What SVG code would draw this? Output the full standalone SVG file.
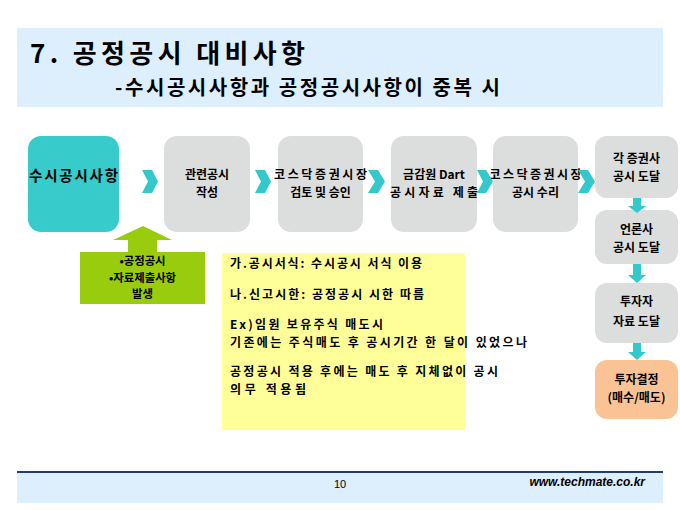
<svg xmlns="http://www.w3.org/2000/svg" width="680" height="510" viewBox="0 0 680 510">
<style>
text{font-family:"Noto Sans CJK KR","Noto Sans",sans-serif;font-weight:bold;fill:#000}
.n{font-size:12px;text-anchor:middle}
.g{font-size:11.4px;text-anchor:middle}
.y{font-size:12px}
.gray{fill:#dcdddd}
.chev{fill:#33c9cc}
</style>
<rect width="680" height="510" fill="#fff"/>
<g id="header">
<rect x="17" y="28" width="646" height="79" fill="#ddeefd"/>
<text x="30" y="63" font-size="26" textLength="275" lengthAdjust="spacing">7. 공정공시 대비사항</text>
<text x="115" y="95" font-size="20" textLength="385" lengthAdjust="spacing">-수시공시사항과 공정공시사항이 중복 시</text>
</g>
<g id="footer">
<rect x="17" y="472" width="646" height="31" fill="#ddeefd"/>
<line x1="17" y1="472" x2="663" y2="472" stroke="#1f3f73" stroke-width="2"/>
<text x="340" y="488" font-size="11" text-anchor="middle" style="font-weight:normal;font-family:'Liberation Sans Narrow','Liberation Sans',sans-serif">10</text>
<text x="645" y="486" font-size="12" text-anchor="end" font-style="italic" style="font-family:'Liberation Sans',Arial,sans-serif">www.techmate.co.kr</text>
</g>
<g id="n1">
<rect x="28" y="136" width="91" height="96" rx="13" fill="#37cbcb"/>
<text x="73.5" y="181" font-size="14.5" text-anchor="middle" textLength="89" lengthAdjust="spacing">수시공시사항</text>
</g>
<g id="n2">
<rect class="gray" x="164" y="136" width="86" height="96" rx="13"/>
<text class="n" x="207" y="179">관련공시</text>
<text class="n" x="207" y="196.5">작성</text>
</g>
<g id="n3">
<rect class="gray" x="278" y="136" width="85" height="96" rx="13"/>
<text class="n" x="320.5" y="179" textLength="93" lengthAdjust="spacing">코스닥증권시장</text>
<text class="n" x="320.5" y="196.5">검토 및 승인</text>
</g>
<g id="n4">
<rect class="gray" x="391" y="136" width="86" height="96" rx="13"/>
<text class="n" x="434" y="179">금감원 Dart</text>
<text class="n" x="434" y="196.5" textLength="88" lengthAdjust="spacing">공시자료 제출</text>
</g>
<g id="n5">
<rect class="gray" x="493" y="136" width="85" height="96" rx="13"/>
<text class="n" x="535.5" y="179" textLength="92" lengthAdjust="spacing">코스닥증권시장</text>
<text class="n" x="535.5" y="196.5">공시 수리</text>
</g>
<g id="n6">
<rect class="gray" x="595" y="136" width="83" height="62" rx="12"/>
<text class="n" x="636.5" y="163">각 증권사</text>
<text class="n" x="636.5" y="181">공시 도달</text>
</g>
<g id="n7">
<rect class="gray" x="595" y="210" width="83" height="54" rx="12"/>
<text class="n" x="636.5" y="234">언론사</text>
<text class="n" x="636.5" y="252">공시 도달</text>
</g>
<g id="n8">
<rect class="gray" x="595" y="283" width="83" height="60" rx="12"/>
<text class="n" x="636.5" y="306">투자자</text>
<text class="n" x="636.5" y="326">자료 도달</text>
</g>
<g id="n9">
<rect x="595" y="360" width="83" height="59" rx="12" fill="#fac395"/>
<text class="n" x="636.5" y="384">투자결정</text>
<text class="n" x="636.5" y="402">(매수/매도)</text>
</g>
<g id="green">
<rect x="80" y="252" width="125" height="52" fill="#9acc0e"/>
<text class="g" x="142.5" y="265">•공정공시</text>
<text class="g" x="142.5" y="281.7">•자료제출사항</text>
<text class="g" x="142.5" y="298.4">발생</text>
</g>
<g id="note">
<rect x="222" y="253" width="243" height="177" fill="#ffff99"/>
<text class="y" x="230" y="268" textLength="192" lengthAdjust="spacing">가.공시서식: 수시공시 서식 이용</text>
<text class="y" x="230" y="299" textLength="194" lengthAdjust="spacing">나.신고시한: 공정공시 시한 따름</text>
<text class="y" x="230" y="329" textLength="153" lengthAdjust="spacing">Ex)임원 보유주식 매도시</text>
<text class="y" x="230" y="346.5" textLength="297" lengthAdjust="spacing">기존에는 주식매도 후 공시기간 한 달이 있었으나</text>
<text class="y" x="230" y="376" textLength="268" lengthAdjust="spacing">공정공시 적용 후에는 매도 후 지체없이 공시</text>
<text class="y" x="230" y="393.5" textLength="76" lengthAdjust="spacing">의무 적용됨</text>
</g>
<g id="connectors">
<polygon class="chev" points="142,170 152,170 158,181.5 152,193 142,193 148,181.5"/>
<polygon class="chev" points="255,170 265,170 271,181.5 265,193 255,193 261,181.5"/>
<polygon class="chev" points="368,170 378,170 385,181.5 378,193 368,193 375,181.5"/>
<polygon class="chev" points="477,170 486,170 493,181.5 486,193 477,193 483,181.5"/>
<polygon class="chev" points="578,170 588,170 595,181.5 588,193 578,193 585,181.5"/>
<polygon class="chev" points="633,198 641,198 641,206 646,206 637,213 628,206 633,206"/>
<polygon class="chev" points="633,264 641,264 641,275 646,275 637,283 628,275 633,275"/>
<polygon class="chev" points="633,343 641,343 641,352 646,352 637,360 628,352 633,352"/>
<polygon fill="#9acc0e" points="143,226 172,240 157,240 157,252 128,252 128,240 113,240"/>
</g>
</svg>
